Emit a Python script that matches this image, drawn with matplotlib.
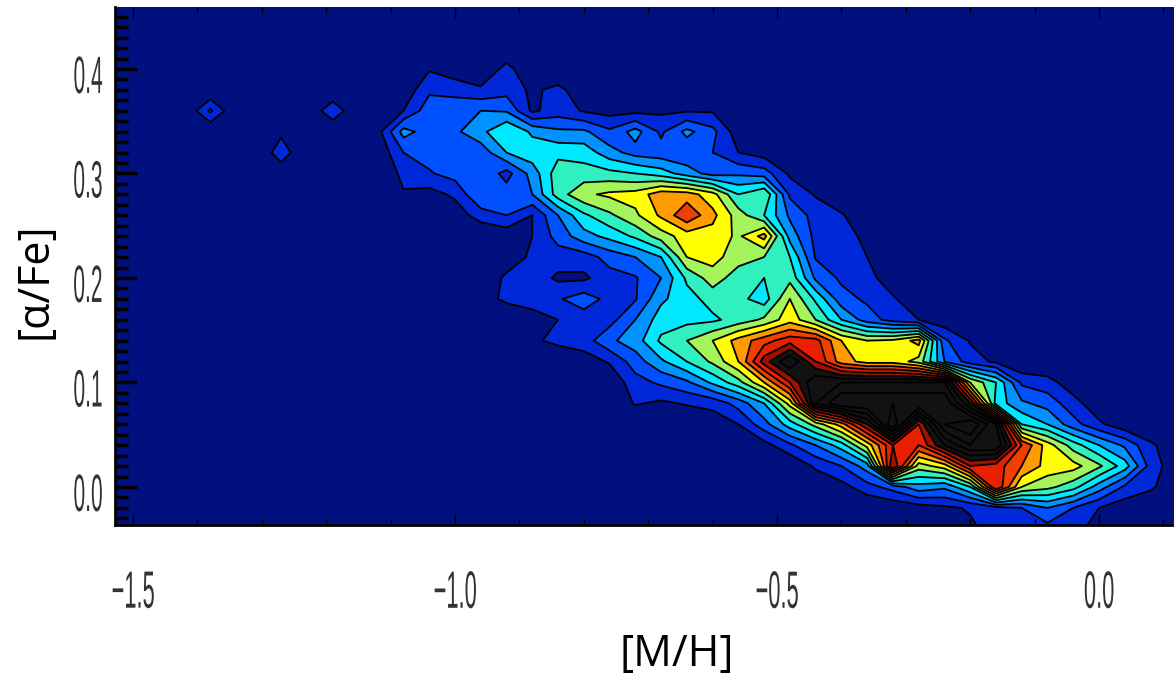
import numpy as np
import matplotlib
matplotlib.use('Agg')
import matplotlib.pyplot as plt
from matplotlib import patheffects as pe
from matplotlib.transforms import Affine2D

# grid columns: sparse on the far left, regular from -1.12 on
x_left = [-1.56, -1.42, -1.38, -1.34, -1.31, -1.27, -1.23, -1.19, -1.15]
x_main = [-1.12 + 0.04 * i for i in range(32)]

# [alpha/Fe] rows, top to bottom
y_rows = [0.46, 0.44, 0.42, 0.40, 0.38, 0.36, 0.34, 0.32, 0.30, 0.28, 0.26, 0.24, 0.22,
          0.20, 0.18, 0.16, 0.14, 0.12, 0.10, 0.08, 0.06, 0.04, 0.02, 0.00, -0.02, -0.04]

# isolated low-metallicity bumps (only these rows are non zero)
bumps = {0.36: [0, 0, 2.2, 0, 0, 0, 0, 1.8, 0],
         0.34: [0, 0, 0, 0, 0, 0.75, 0, 0, 0],
         0.32: [0, 0, 0, 0, 0, 1.6, 0, 0, 0],
         0.30: [0, 0, 0, 0, 0, 0.3, 0, 0, 0]}

ridge = {
    0.40: [0, 0, .9, .5, 0, 1.4],
    0.38: [0, .3, 1.8, 1.5, 1.2, 1.6, .8, 1.3, .3],
    0.36: [0, 1.0, 2.6, 2.9, 3.0, 2.9, .8, 1.5, .9, .6, .7, .8, .9, .9, .2],
    0.34: [.6, 3.4, 2.5, 2.8, 3.7, 5.0, 3.8, 3.2, 3.2, 2.2, 3.4, 1.8, 3.3, 2.3, .4],
    0.32: [.2, 2.0, 2.4, 2.2, 2.4, 4, 4.6, 4.7, 4.6, 3.4, 2.6, 2.4, 2.2, 2.0, 1.0, .5],
    0.30: [0, 1.3, 1.9, 2.4, 2.9, 1.6, 3.4, 5.6, 5.4, 5.3, 5.0, 4.5, 3.5, 2.6, 2.8, 2.5, .8],
    0.28: [0, .9, .6, 1.2, 3.0, 2.5, 3.0, 5.5, 6.8, 7.2, 7.4, 8.6, 8.5, 7.4, 5, 6.0, 1.8, .9, .3],
    0.26: [0, 0, 0, .4, 1.5, 2.0, 1.0, 3.0, 4.8, 5.8, 6.8, 8.2, 9.8, 8.3, 6.5, 5.0, 2.8, 1.6, 1.1, .3],
    0.24: [0, 0, 0, 0, 0, .3, 1.0, 2.4, 3.6, 4.3, 5.2, 6.5, 7.5, 7.6, 6.8, 8.4, 3.6, 1.7, 1.5, .7],
    0.22: [0, 0, 0, 0, 0, .4, 1.2, 1.5, 1.5, 2.4, 3.0, 4.0, 7.0, 7.4, 6.4, 6, 5.0, 1.9, 1.5, 1.0],
    0.20: [0, 0, 0, 0, .2, 1.2, 1.6, .8, .8, 1.6, 1.9, 3.0, 5.2, 6.5, 5.5, 5.0, 5.7, 2.8, 1.8, 1.3, .5],
    0.18: [0, 0, 0, 0, .6, 1.2, 1.3, 1.9, 2.5, 1.7, 1.9, 3.8, 4.6, 5.4, 5.3, 4.5, 7.0, 4.8, 2.4, 1.8, 1.1, .4],
    0.16: [0, 0, 0, 0, 0, .2, .7, 1.0, 1.5, 1.6, 3.0, 4.5, 4.7, 4.8, 5.4, 6.2, 7.6, 6.0, 4.0, 2.5, 1.6, 1.0, .3],
    0.14: [0, 0, 0, 0, 0, 0, .8, 1.3, 1.5, 2.8, 3.5, 5.2, 6.0, 7.0, 8.4, 9.6, 10.6, 10.4, 8, 7.0, 7.2, 8.4, 2.2, .9, .3],
    0.12: [0, 0, 0, 0, 0, 0, 0, 0, .5, 1.1, 2.5, 3.8, 5, 6.2, 8, 11.5, 14, 11.0, 8.5, 7.6, 7.6, 6.6, 3, 1.5, .8],
    0.10: [0, 0, 0, 0, 0, 0, 0, 0, 0, .2, 1.6, 2.2, 2.8, 4.2, 5.6, 8, 11, 14, 14, 14, 14, 14, 14, 7, 5, 1.8, 1.4, .4],
    0.08: [0, 0, 0, 0, 0, 0, 0, 0, 0, 0, 1.1, .8, 1.1, 1.3, 2.4, 4, 7.4, 14, 16, 16, 16, 16, 16, 12, 4.6, 3.2, 2.6, 1.4, .3],
    0.06: [0, 0, 0, 0, 0, 0, 0, 0, 0, 0, 0, 0, 0, .4, 1, 2.6, 4.5, 6.4, 8.5, 12, 17, 11, 16, 17, 14, 5.0, 4.0, 2.4, 1.2, .3],
    0.04: [0, 0, 0, 0, 0, 0, 0, 0, 0, 0, 0, 0, 0, 0, 0, .6, 1.8, 3, 4.5, 7.4, 11, 10, 13, 15, 15, 10, 7.5, 5.5, 4, 2.8, 1.2, .3],
    0.02: [0, 0, 0, 0, 0, 0, 0, 0, 0, 0, 0, 0, 0, 0, 0, 0, 0, 1.2, 2, 3.5, 12, 6.5, 7.5, 11, 10.5, 9, 7.6, 7.4, 6.2, 4.5, 1.6, .3],
    0.00: [0, 0, 0, 0, 0, 0, 0, 0, 0, 0, 0, 0, 0, 0, 0, 0, 0, 0, .6, 1.6, 2.4, 3.6, 3.2, 5, 11, 7, 6.3, 5.4, 3.5, 1.8, 1.2, .2],
    -0.02: [0, 0, 0, 0, 0, 0, 0, 0, 0, 0, 0, 0, 0, 0, 0, 0, 0, 0, 0, 0, .2, .5, .8, 1.1, 1.6, 2, 3, 2, 1, .4],
    -0.04: [0, 0, 0, 0, 0, 0, 0, 0, 0, 0, 0, 0, 0, 0, 0, 0, 0, 0, 0, 0, 0, 0, 0, .8, 1.4, 1.2, 1.6, 1.4, .5],
}

levels = list(range(1, 21))
band_colors = ['#00107f', '#0028d8', '#0050ff', '#0092ff', '#00e8ff', '#30f0c0',
               '#a4f45c', '#ffff00', '#ff9a00', '#f04000', '#e82000', '#a01000'] + ['#121212'] * 8

xticks = [-1.5, -1.0, -0.5, 0.0]
yticks = [0.0, 0.1, 0.2, 0.3, 0.4]
xlabels = ['\u22121.5', '\u22121.0', '\u22120.5', '0.0']
ylabels = ['0.0', '0.1', '0.2', '0.3', '0.4']


class Squeeze(pe.AbstractPathEffect):
    # the tick labels are tall and very narrow, no installed font is like that
    def __init__(self, sx, sy, dy=0):
        super().__init__()
        self.sx, self.sy, self.dy = sx, sy, dy

    def draw_path(self, renderer, gc, tpath, affine, rgbFace=None):
        box = tpath.get_extents()
        cx, cy = (box.x0 + box.x1) / 2, (box.y0 + box.y1) / 2
        aff = Affine2D().translate(-cx, -cy).scale(self.sx, self.sy).translate(cx, cy) + affine
        renderer.draw_path(gc, tpath, aff + Affine2D().translate(0, self.dy), rgbFace)


xs = np.array(x_left + x_main)
ys = np.array(y_rows)
zz = np.zeros((len(ys), len(xs)))
for row, y in enumerate(y_rows):
    left = bumps.get(y, [0] * len(x_left))
    main = ridge.get(y, [])
    zz[row, :len(left)] = left
    zz[row, len(left):len(left) + len(main)] = main

fig = plt.figure(figsize=(11.74, 6.76), dpi=100)
ax = fig.add_axes([115 / 1174, 1 - 525 / 676, 1 - 115 / 1174, (525 - 7) / 676])
ax.contourf(xs, ys, zz, levels=[-1] + levels, colors=band_colors, extend='max')
ax.contour(xs, ys, zz, levels=levels, colors='k', linewidths=1.3)

ax.set_xlim(-1.528, 0.1165)
ax.set_ylim(-0.0364, 0.4593)

ax.set_xticks(xticks)
ax.set_xticklabels(xlabels, family='Liberation Sans', fontsize=21, color='#333333')
ax.set_yticks(yticks)
ax.set_yticklabels(ylabels, family='Liberation Sans', fontsize=21, color='#333333')
ax.set_xticks(np.arange(-1.5, 0.11, 0.1), minor=True)
ax.set_yticks(np.arange(-0.03, 0.46, 0.01), minor=True)
ax.tick_params(axis='x', which='major', direction='in', length=8, width=1, top=True, pad=38)
ax.tick_params(axis='x', which='minor', direction='in', length=4, width=1, top=True)
ax.tick_params(axis='y', which='major', direction='in', length=16, width=2.5, pad=5)
ax.tick_params(axis='y', which='minor', direction='in', length=9, width=2.5)
for name, spine in ax.spines.items():
    spine.set_linewidth(2 if name in ('left', 'bottom') else 0)
for lab in ax.get_xticklabels():
    lab.set_path_effects([Squeeze(0.75, 1.8)])
for lab in ax.get_yticklabels():
    lab.set_path_effects([Squeeze(0.72, 1.8, dy=-5)])

# right side only has short major ticks
sec = ax.secondary_yaxis('right')
sec.set_yticks(yticks, labels=[])
sec.tick_params(direction='in', length=8, width=1.5)
sec.spines['right'].set_visible(False)

fig.text(677 / 1174, 1 - 655 / 676, '[M/H]', family='Open Sans', fontsize=31, ha='center', va='center')
fig.text(35 / 1174, 1 - 281 / 676, '[\u03b1/Fe]', family='Open Sans', fontsize=31, rotation=90, ha='center', va='center')

fig.savefig('out.png', dpi=100)
